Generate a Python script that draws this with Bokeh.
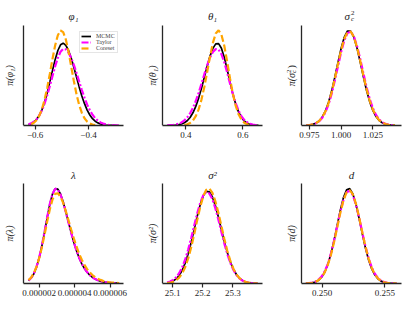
import math
from bokeh.plotting import figure
from bokeh.layouts import column, row
from bokeh.models import (Range1d, FixedTicker, Label, Legend, LegendItem,
                          PrintfTickFormatter, CustomJSTickFormatter)
from bokeh.embed import file_html
from bokeh.resources import INLINE

# ---------------- data (relative density, axis top = 1000) ----------------
series_names = ["MCMC", "Taylor", "Coreset"]

phi_x = [-0.625, -0.615, -0.605, -0.595, -0.585, -0.575, -0.565, -0.555, -0.545, -0.535,
         -0.525, -0.515, -0.505, -0.495, -0.485, -0.475, -0.465, -0.455, -0.445, -0.435,
         -0.425, -0.415, -0.405, -0.395, -0.385, -0.375, -0.365, -0.355, -0.345, -0.335,
         -0.325, -0.315, -0.305, -0.295, -0.285]
phi_mcmc = [9, 18, 34, 60, 99, 155, 231, 326, 436, 551, 661, 750, 807, 823, 802, 750, 675, 583,
            484, 386, 296, 218, 154, 105, 68, 43, 26, 15, 8, 4, 2, 1, 1, 0, 0]
phi_taylor = [12, 21, 38, 63, 99, 151, 218, 300, 395, 496, 593, 677, 737, 765, 761, 730, 677, 607,
              525, 439, 355, 278, 209, 153, 108, 73, 48, 31, 19, 11, 6, 4, 2, 1, 0]
phi_coreset_x = [-0.615, -0.605, -0.595, -0.585, -0.575, -0.565, -0.555, -0.545, -0.535, -0.525,
                 -0.515, -0.505, -0.495, -0.485, -0.475, -0.465, -0.455, -0.445, -0.435, -0.425,
                 -0.415, -0.405, -0.395, -0.385, -0.375]
phi_coreset = [13, 28, 53, 96, 162, 255, 376, 518, 667, 803, 903, 950, 934, 859, 738, 592, 445,
               312, 205, 126, 72, 39, 19, 9, 4]

theta_x = [0.335, 0.345, 0.355, 0.365, 0.375, 0.385, 0.395, 0.405, 0.415, 0.425, 0.435, 0.445,
           0.455, 0.465, 0.475, 0.485, 0.495, 0.505, 0.515, 0.525, 0.535, 0.545, 0.555, 0.565,
           0.575, 0.585, 0.595, 0.605, 0.615, 0.625, 0.635, 0.645, 0.655]
theta_mcmc = [0, 1, 2, 4, 8, 15, 28, 48, 80, 127, 191, 274, 373, 482, 593, 694, 771, 816, 819,
              772, 681, 563, 436, 316, 214, 136, 81, 45, 24, 11, 5, 2, 1]
theta_taylor = [1, 3, 5, 10, 18, 31, 51, 81, 122, 176, 245, 327, 418, 513, 603, 680, 736, 764, 759,
                713, 633, 531, 421, 315, 223, 149, 94, 56, 32, 17, 9, 4, 2]
theta_coreset_x = [0.395, 0.405, 0.415, 0.425, 0.435, 0.445, 0.455, 0.465, 0.475, 0.485, 0.495,
                   0.505, 0.515, 0.525, 0.535, 0.545, 0.555, 0.565, 0.575, 0.585, 0.595, 0.605,
                   0.615, 0.625]
theta_coreset = [5, 12, 25, 50, 94, 161, 259, 386, 535, 690, 826, 920, 952, 909, 797, 640, 472,
                 319, 198, 112, 59, 28, 12, 5]

sc_x = [0.9725, 0.975, 0.9775, 0.98, 0.9825, 0.985, 0.9875, 0.99, 0.9925, 0.995, 0.9975, 1.0,
        1.0025, 1.005, 1.0075, 1.01, 1.0125, 1.015, 1.0175, 1.02, 1.0225, 1.025, 1.0275, 1.03,
        1.0325, 1.035, 1.0375, 1.04, 1.0425]
sc_mcmc = [2, 5, 11, 23, 45, 83, 143, 229, 344, 482, 631, 773, 884, 945, 944, 883, 774, 636, 490,
           353, 239, 151, 90, 50, 26, 13, 6, 2, 1]
sc_taylor = [2, 4, 10, 21, 41, 75, 130, 210, 317, 449, 594, 735, 852, 924, 938, 892, 796, 667, 524,
             386, 267, 173, 106, 60, 32, 16, 8, 3, 1]
sc_coreset = [2, 5, 11, 23, 44, 81, 139, 222, 333, 468, 614, 755, 868, 934, 940, 887, 783, 649, 503,
              366, 249, 159, 95, 53, 28, 14, 6, 3, 1]

lam_x_micro = [1.40, 1.55, 1.70, 1.85, 2.00, 2.15, 2.30, 2.45, 2.60, 2.75, 2.90, 3.05, 3.20, 3.35,
               3.50, 3.65, 3.80, 3.95, 4.10, 4.25, 4.40, 4.55, 4.70, 4.85, 5.00, 5.15, 5.30, 5.45,
               5.60, 5.75, 5.90, 6.05, 6.20, 6.35, 6.50]
lam_mcmc = [29, 55, 98, 164, 255, 374, 512, 658, 793, 895, 948, 943, 895, 815, 717, 612, 509, 413,
            328, 257, 197, 150, 112, 83, 61, 44, 32, 23, 16, 12, 8, 6, 4, 3, 2]
lam_taylor = [30, 57, 101, 167, 260, 379, 518, 663, 797, 897, 947, 940, 890, 811, 714, 610, 507, 413,
              329, 258, 199, 151, 114, 84, 62, 45, 33, 24, 17, 12, 9, 6, 4, 3, 2]
lam_coreset = [34, 61, 104, 167, 253, 361, 487, 619, 743, 840, 896, 902, 868, 806, 724, 633, 540, 451,
               370, 298, 237, 186, 144, 111, 84, 64, 48, 36, 26, 19, 14, 10, 8, 6, 4]

s2_x = [25.082, 25.092, 25.102, 25.112, 25.122, 25.132, 25.142, 25.152, 25.162, 25.172, 25.182,
        25.192, 25.202, 25.212, 25.222, 25.232, 25.242, 25.252, 25.262, 25.272, 25.282, 25.292,
        25.302, 25.312, 25.322, 25.332, 25.342, 25.352, 25.362, 25.372, 25.382]
s2_mcmc = [6, 13, 25, 46, 80, 131, 203, 298, 413, 541, 672, 789, 876, 921, 917, 867, 780, 667, 542,
           419, 308, 215, 143, 90, 54, 31, 17, 9, 4, 2, 1]
s2_taylor = [10, 20, 36, 62, 103, 161, 240, 339, 455, 580, 702, 807, 882, 914, 901, 845, 754, 641,
             518, 399, 292, 204, 135, 85, 51, 29, 16, 8, 4, 2, 1]
s2_coreset = [4, 8, 16, 32, 58, 100, 163, 250, 362, 493, 634, 766, 874, 938, 950, 909, 825, 709, 577,
              445, 325, 225, 148, 92, 54, 30, 16, 8, 4, 2, 1]

d_x = [0.2487, 0.24895, 0.2492, 0.24945, 0.2497, 0.24995, 0.2502, 0.25045, 0.2507, 0.25095,
       0.2512, 0.25145, 0.2517, 0.25195, 0.2522, 0.25245, 0.2527, 0.25295, 0.2532, 0.25345,
       0.2537, 0.25395, 0.2542, 0.25445, 0.2547, 0.25495, 0.2552, 0.25545, 0.2557, 0.25595]
d_mcmc = [1, 3, 7, 15, 32, 63, 113, 190, 297, 431, 584, 734, 860, 936, 949, 896, 790, 650, 499, 357,
          239, 149, 87, 47, 24, 11, 5, 2, 1, 0]
d_taylor = [2, 4, 9, 18, 37, 69, 121, 197, 302, 431, 576, 718, 837, 912, 928, 884, 787, 656, 512, 374,
            255, 163, 98, 55, 29, 14, 6, 3, 1, 0]
d_coreset = [1, 3, 7, 16, 33, 62, 111, 185, 287, 415, 561, 707, 832, 912, 934, 892, 796, 662, 514,
             372, 251, 158, 93, 51, 26, 13, 6, 2, 1, 0]

phi_ticks = [-0.6, -0.4]
theta_ticks = [0.4, 0.6]
sc_ticks = [0.975, 1.0, 1.025]
lam_ticks = [2e-6, 4e-6, 6e-6]
s2_ticks = [25.1, 25.2, 25.3]
d_ticks = [0.25, 0.255]

# ---------------- styling ----------------
FONT = "Liberation Serif"
AX = "#262626"
COLORS = ["black", "#ff00ff", "#ffa500"]
WIDTHS = [1.7, 2.2, 2.2]
DASHES = ["solid", "7 2 2 2", "7 3"]

minus_fmt = CustomJSTickFormatter(code="return (tick < 0 ? '\u2212' : '') + Math.abs(tick).toFixed(1);")
lam_x = [v * 1e-6 for v in lam_x_micro]

panels = [
    dict(xs=[phi_x, phi_x, phi_coreset_x], ys=[phi_mcmc, phi_taylor, phi_coreset],
         xr=(-0.6439, -0.2687), ticks=phi_ticks, fmt=minus_fmt, title="φ₁", ylab="π(φ₁)"),
    dict(xs=[theta_x, theta_x, theta_coreset_x], ys=[theta_mcmc, theta_taylor, theta_coreset],
         xr=(0.3182, 0.6691), ticks=theta_ticks, fmt=PrintfTickFormatter(format="%.1f"),
         title="θ₁", ylab="π(θ₁)"),
    dict(xs=[sc_x, sc_x, sc_x], ys=[sc_mcmc, sc_taylor, sc_coreset],
         xr=(0.9687, 1.0476), ticks=sc_ticks, fmt=PrintfTickFormatter(format="%.3f"),
         title=None, ylab=None),
    dict(xs=[lam_x, lam_x, lam_x], ys=[lam_mcmc, lam_taylor, lam_coreset],
         xr=(1.1155e-6, 6.749e-6), ticks=lam_ticks, fmt=PrintfTickFormatter(format="%.6f"),
         title="λ", ylab="π(λ)"),
    dict(xs=[s2_x, s2_x, s2_x], ys=[s2_mcmc, s2_taylor, s2_coreset],
         xr=(25.0668, 25.3985), ticks=s2_ticks, fmt=PrintfTickFormatter(format="%.1f"),
         title="σ²", ylab="π(σ²)"),
    dict(xs=[d_x, d_x, d_x], ys=[d_mcmc, d_taylor, d_coreset],
         xr=(0.248347, 0.256334), ticks=d_ticks, fmt=PrintfTickFormatter(format="%.3f"),
         title="d", ylab="π(d)"),
]
# pixel geometry: plot box is 100x100 px; extra room inside the frame for title / y label
EDGE = 4                       # min border left
left_px = [19, 18, 18]         # frame-left -> y axis
right_px = [17, 17, 10]        # x-axis end -> figure right
top_px = [25, 29]              # figure top -> top of y axis
bottom_px = [29, 25]           # x axis -> figure bottom
title_off = [10, 8.5]
ylab_off = [14, 10, 10]


def lab(p, x, y, text, size, align="center", angle=0, italic=True):
    p.add_layout(Label(x=x, y=y, text=text, angle=angle,
                       text_font=FONT, text_font_style="italic" if italic else "normal",
                       text_font_size=size, text_align=align, text_baseline="middle",
                       text_color=AX))


figs = []
for i, pd in enumerate(panels):
    c, r = i % 3, i // 3
    x0, x1 = pd["xr"]
    s = (x1 - x0) / 100.0
    p = figure(frame_width=left_px[c] + 100 + right_px[c], frame_height=top_px[r] + 100,
               x_range=Range1d(x0 - left_px[c] * s, x1 + right_px[c] * s),
               y_range=Range1d(0, 1000 + top_px[r] * 10),
               output_backend="svg", toolbar_location=None,
               min_border_left=EDGE, min_border_right=0,
               min_border_top=0, min_border_bottom=bottom_px[r])
    p.outline_line_color = None
    p.xgrid.visible = False
    p.ygrid.visible = False
    xa = p.xaxis[0]
    xa.bounds = (x0, x1)
    xa.ticker = FixedTicker(ticks=pd["ticks"])
    xa.formatter = pd["fmt"]
    xa.major_tick_out = 4
    xa.major_tick_in = 0
    xa.minor_tick_line_color = None
    xa.axis_line_color = AX
    xa.axis_line_width = 1.3
    xa.major_tick_line_color = AX
    xa.major_tick_line_width = 1.2
    xa.major_label_text_font = FONT
    xa.major_label_text_font_size = "9px"
    xa.major_label_text_color = AX
    xa.major_label_standoff = 2
    ya = p.yaxis[0]
    ya.fixed_location = x0
    ya.bounds = (0, 1000)
    ya.ticker = FixedTicker(ticks=[])
    ya.major_tick_out = 0
    ya.major_tick_in = 0
    ya.minor_tick_line_color = None
    ya.major_label_text_font_size = "0px"
    ya.axis_line_color = AX
    ya.axis_line_width = 1.3

    rends = []
    for xs, ys, col, w, dash in zip(pd["xs"], pd["ys"], COLORS, WIDTHS, DASHES):
        rends.append(p.line(xs, ys, line_color=col, line_width=w, line_dash=dash))

    xc = (x0 + x1) / 2
    xl = x0 - ylab_off[c] * s
    ty = 1000 + title_off[r] * 10
    if pd["title"]:
        lab(p, xc, ty, pd["title"], "11px")
        lab(p, xl, 500, pd["ylab"], "10px", angle=math.pi / 2)
    else:
        lab(p, xc - 1.5 * s, ty, "σ", "11px", align="right")
        lab(p, xc - 0.5 * s, ty + 30, "2", "7px", align="left", italic=False)
        lab(p, xc - 0.5 * s, ty - 30, "c", "7px", align="left")
        lab(p, xl, 525, "π(σ", "10px", align="right", angle=math.pi / 2)
        lab(p, xl - 2.5 * s, 525, "2", "7px", align="left", angle=math.pi / 2, italic=False)
        lab(p, xl + 2 * s, 525, "c", "7px", align="left", angle=math.pi / 2)
        lab(p, xl, 570, ")", "10px", align="left", angle=math.pi / 2, italic=False)
    if i == 0:
        lg = Legend(items=[LegendItem(label=n, renderers=[rr]) for n, rr in zip(series_names, rends)],
                    location=(75, 72), label_text_font=FONT, label_text_font_size="6px",
                    glyph_width=10, glyph_height=6, label_height=6, spacing=0, padding=1, margin=0,
                    label_standoff=5, border_line_color="#cccccc", border_line_width=0.8,
                    background_fill_alpha=0.8)
        p.add_layout(lg)
    figs.append(p)

layout = column(row(*figs[:3]), row(*figs[3:]))
open("out.html", "w").write(file_html(layout, INLINE))
